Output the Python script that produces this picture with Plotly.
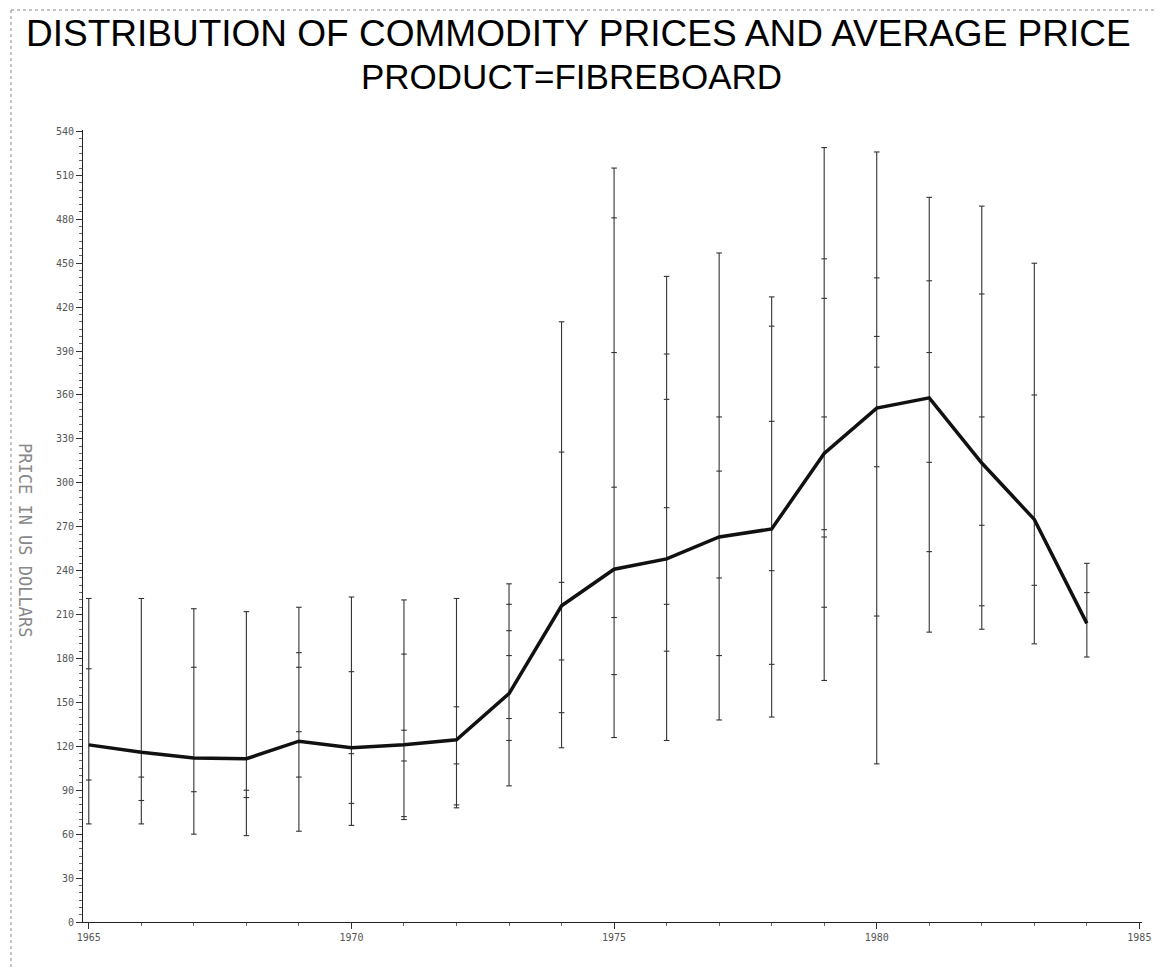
import plotly.graph_objects as go

# ---- data ----
years = list(range(1965, 1985))
avg_price = [121, 116, 112, 111.5, 123.5, 119, 121, 124.5, 156, 216,
             241, 248, 263, 268.5, 320, 351, 358, 313.5, 275, 204]
min_price = [67, 67, 60, 59, 62, 66, 70, 78, 93, 119,
             126, 124, 138, 140, 165, 108, 198, 200, 190, 181]
max_price = [221, 221, 214, 212, 215, 222, 220, 221, 231, 410,
             515, 441, 457, 427, 529, 526, 495, 489, 450, 245]

p1965 = [173, 97]
p1966 = [99, 83]
p1967 = [174, 89]
p1968 = [90, 85]
p1969 = [184, 174, 130, 99]
p1970 = [171, 115, 81]
p1971 = [183, 131, 110, 72]
p1972 = [147, 108, 80]
p1973 = [217, 199, 182, 139, 124]
p1974 = [321, 232, 179, 143]
p1975 = [481, 389, 297, 208, 169]
p1976 = [388, 357, 283, 217, 185]
p1977 = [345, 308, 235, 182]
p1978 = [407, 342, 240, 176]
p1979 = [453, 426, 345, 268, 263, 215]
p1980 = [440, 400, 379, 311, 209]
p1981 = [438, 389, 314, 253]
p1982 = [429, 345, 271, 216]
p1983 = [360, 230]
p1984 = [225]
observed = [p1965, p1966, p1967, p1968, p1969, p1970, p1971, p1972, p1973, p1974,
            p1975, p1976, p1977, p1978, p1979, p1980, p1981, p1982, p1983, p1984]

y_ticks = list(range(0, 541, 30))
x_ticks = [1965, 1970, 1975, 1980, 1985]

title_text = "DISTRIBUTION OF COMMODITY PRICES AND AVERAGE PRICE"
subtitle_text = "PRODUCT=FIBREBOARD"
y_title = "PRICE IN US DOLLARS"

# ---- build traces ----
vx, vy = [], []
for yr, lo, hi in zip(years, min_price, max_price):
    vx += [yr, yr, None]
    vy += [lo, hi, None]

mx, my = [], []
for yr, lo, hi, pts in zip(years, min_price, max_price, observed):
    for v in [lo, hi] + pts:
        mx.append(yr)
        my.append(v)

fig = go.Figure()
fig.add_trace(go.Scatter(x=vx, y=vy, mode="lines",
                         line=dict(color="#333333", width=1.1),
                         hoverinfo="skip", showlegend=False))
fig.add_trace(go.Scatter(x=mx, y=my, mode="markers",
                         marker=dict(symbol="line-ew", size=4,
                                     line=dict(color="#333333", width=1.1)),
                         showlegend=False))
fig.add_trace(go.Scatter(x=years, y=avg_price, mode="lines",
                         line=dict(color="#111111", width=3.5),
                         showlegend=False))

W, H = 1163, 968
L, R, T, B = 75, 29, 122, 54
plot_h = H - T - B
plot_w = W - L - R

def py(pix):
    return (H - B - pix) / plot_h

def px(pix):
    return (pix - L) / plot_w

fig.update_layout(
    width=W, height=H,
    margin=dict(l=L, r=R, t=T, b=B),
    paper_bgcolor="white", plot_bgcolor="white",
    font=dict(family="Liberation Sans, Arial, sans-serif", color="#000"),
    xaxis=dict(range=[1964.89, 1985.05], tickmode="array", tickvals=x_ticks,
               ticks="outside", ticklen=6, tickcolor="#333", tickwidth=1,
               showline=True, linecolor="#222", linewidth=1,
               showgrid=False, zeroline=False,
               minor=dict(dtick=1, ticks="outside", ticklen=3, tickcolor="#666"),
               tickfont=dict(family="DejaVu Sans Mono", size=10, color="#555")),
    yaxis=dict(range=[0, 541], tickmode="array", tickvals=y_ticks,
               ticks="outside", ticklen=6, tickcolor="#333", tickwidth=1,
               showline=True, linecolor="#222", linewidth=1,
               showgrid=False, zeroline=False,
               minor=dict(dtick=5, ticks="outside", ticklen=3, tickcolor="#666"),
               tickfont=dict(family="DejaVu Sans Mono", size=10, color="#555")),
    annotations=[
        dict(text=title_text, xref="paper", yref="paper",
             x=px(570), y=py(25), showarrow=False,
             xanchor="center", yanchor="middle",
             font=dict(family="Liberation Sans", size=37, color="#000")),
        dict(text=subtitle_text, xref="paper", yref="paper",
             x=px(563), y=py(68), showarrow=False,
             xanchor="center", yanchor="middle",
             font=dict(family="Liberation Sans", size=35, color="#000")),
        dict(text=y_title, xref="paper", yref="paper",
             x=px(17), y=py(532), showarrow=False, textangle=90,
             xanchor="center", yanchor="middle",
             font=dict(family="DejaVu Sans Mono", size=17, color="#888")),
    ],
    shapes=[
        dict(type="line", xref="paper", yref="paper",
             x0=px(3), x1=px(3), y0=py(2), y1=py(966),
             line=dict(color="#888", width=1, dash="dot")),
        dict(type="line", xref="paper", yref="paper",
             x0=px(3), x1=px(1163), y0=py(2), y1=py(2),
             line=dict(color="#888", width=1, dash="dot")),
    ],
)

fig.write_html("out.html")
